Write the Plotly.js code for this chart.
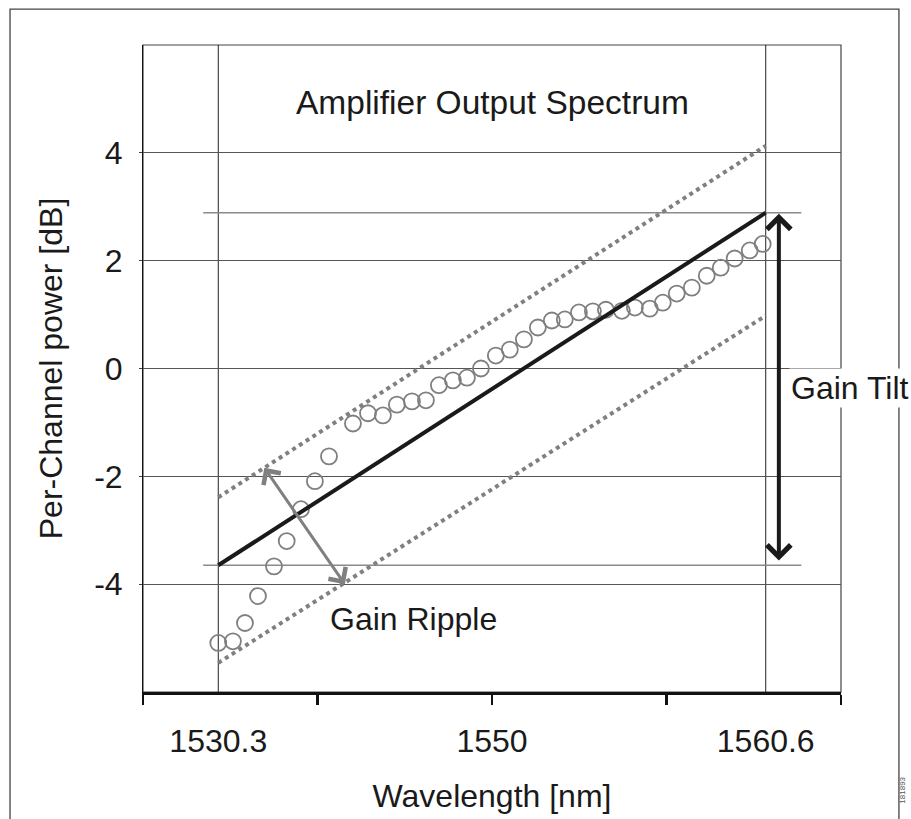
<!DOCTYPE html>
<html>
<head>
<meta charset="utf-8">
<script src="https://cdn.plot.ly/plotly-3.0.1.min.js"></script>
<style>html,body{margin:0;padding:0;background:#fff;}#chart{width:911px;height:819px;}</style>
</head>
<body>
<div id="chart"></div>
<script>
// Channel positions along the (schematic) wavelength axis: 0 = 1530.3 nm, 40 = 1560.6 nm
const channelPos = [0, 1.07, 1.95, 2.9, 4.07, 5.0, 6.04, 7.06, 8.09, 9.84, 10.94, 12.03, 13.05, 14.15, 15.17, 16.12, 17.14, 18.17, 19.19, 20.28, 21.3, 22.33, 23.35, 24.37, 25.32, 26.35, 27.37, 28.32, 29.49, 30.44, 31.53, 32.48, 33.5, 34.6, 35.69, 36.71, 37.73, 38.83, 39.78];
const channelPower = [-5.09, -5.06, -4.72, -4.22, -3.67, -3.20, -2.61, -2.09, -1.63, -1.02, -0.83, -0.87, -0.67, -0.61, -0.59, -0.31, -0.22, -0.17, 0.0, 0.24, 0.35, 0.54, 0.76, 0.89, 0.91, 1.04, 1.06, 1.09, 1.07, 1.13, 1.11, 1.22, 1.39, 1.50, 1.72, 1.87, 2.04, 2.19, 2.31];

const fitX = [0, 40];
const fitY = [-3.65, 2.89];
const upperBoundY = [-2.39, 4.13];
const lowerBoundY = [-5.46, 0.98];

const tiltLevelX = [-1.1, 42.6];
const tiltTop = 2.89;
const tiltBottom = -3.65;

const xLabelPos = [0, 20, 40];
const xLabelText = ['1530.3', '1550', '1560.6'];
const xTickMarks = [-5.5, 7.25, 20, 32.75, 45.5];
const xRange = [-5.5, 45.5];
const yTicks = [-4, -2, 0, 2, 4];
const yTickText = ['-4', '-2', '0', '2', '4'];
const yRange = [-6, 6];

// arrows: [tailX, tailY, headX, headY]
const rippleArrow = [3.29, -1.815, 9.25, -4.0];
const tiltArrowX = 40.96;
const tiltArrowY = [2.87, -3.59];

const FONT = 'Liberation Sans, Arial, Helvetica, sans-serif';
const fs = 32;

const traces = [
  {x: tiltLevelX, y: [tiltTop, tiltTop], mode: 'lines', line: {color: '#8a8a8a', width: 1.5}, hoverinfo: 'skip', showlegend: false},
  {x: tiltLevelX, y: [tiltBottom, tiltBottom], mode: 'lines', line: {color: '#8a8a8a', width: 1.5}, hoverinfo: 'skip', showlegend: false},
  {x: fitX, y: upperBoundY, mode: 'lines', line: {color: '#808080', width: 4, dash: 'dot'}, showlegend: false},
  {x: fitX, y: lowerBoundY, mode: 'lines', line: {color: '#808080', width: 4, dash: 'dot'}, showlegend: false},
  {x: channelPos, y: channelPower, mode: 'markers', marker: {symbol: 'circle-open', size: 16, color: '#7f7f7f', line: {width: 1.8}}, showlegend: false},
  {x: fitX, y: fitY, mode: 'lines', line: {color: '#1a1a1a', width: 4}, showlegend: false, xaxis: 'x2'}
];

const layout = {
  width: 911, height: 819,
  margin: {l: 143, r: 70, t: 45, b: 127},
  paper_bgcolor: '#fff', plot_bgcolor: '#fff',
  font: {family: FONT, color: '#1a1a1a', size: fs},
  showlegend: false,
  xaxis: {
    range: xRange, tickmode: 'array', tickvals: xLabelPos, ticktext: xLabelText,
    ticks: '', showgrid: false, zeroline: false, showline: false,
    tickfont: {size: fs, family: FONT, color: '#1a1a1a'}, ticklabelstandoff: 27,
    title: {text: 'Wavelength [nm]', font: {size: fs, family: FONT, color: '#1a1a1a'}, standoff: 26},
    fixedrange: true
  },
  xaxis2: {
    range: xRange, overlaying: 'x', anchor: 'y', side: 'bottom',
    tickmode: 'array', tickvals: xTickMarks, showticklabels: false,
    ticks: 'outside', ticklen: 10, tickwidth: 2.5, tickcolor: '#111',
    showline: true, linewidth: 3, linecolor: '#111',
    showgrid: false, zeroline: false, fixedrange: true
  },
  yaxis: {
    range: yRange, tickmode: 'array', tickvals: yTicks, ticktext: yTickText,
    ticks: 'outside', ticklen: 3, tickcolor: '#444', tickwidth: 1,
    showgrid: true, gridcolor: '#555', gridwidth: 1, zeroline: false,
    showline: true, linecolor: '#111', linewidth: 1,
    tickfont: {size: fs, family: FONT, color: '#1a1a1a'}, ticklabelstandoff: 10,
    title: {text: 'Per-Channel power [dB]', font: {size: fs, family: FONT, color: '#1a1a1a'}, standoff: 21},
    fixedrange: true
  },
  shapes: [
    {type: 'rect', xref: 'paper', yref: 'paper', x0: 0, x1: 1, y0: 0, y1: 1, line: {color: '#444', width: 1.2}, layer: 'below'},
    {type: 'line', xref: 'x', yref: 'paper', x0: xLabelPos[0], x1: xLabelPos[0], y0: 0, y1: 1, line: {color: '#222', width: 1}, layer: 'below'},
    {type: 'line', xref: 'x', yref: 'paper', x0: xLabelPos[2], x1: xLabelPos[2], y0: 0, y1: 1, line: {color: '#222', width: 1}, layer: 'below'},
    {type: 'rect', xref: 'paper', yref: 'paper', x0: -0.1905, x1: 1.083, y0: -0.25, y1: 1.0556, line: {color: '#444', width: 1.3}, layer: 'below'}
  ],
  annotations: [
    {text: 'Amplifier Output Spectrum', x: 20, y: 4.94, xref: 'x', yref: 'y', showarrow: false, font: {size: 33.5, family: FONT, color: '#1a1a1a'}},
    {text: 'Gain Ripple', x: 14.3, y: -4.65, xref: 'x', yref: 'y', showarrow: false, font: {size: fs, family: FONT, color: '#1a1a1a'}},
    {text: 'Gain Tilt', x: 41.7, y: -0.37, xref: 'x', yref: 'y', xanchor: 'left', showarrow: false, bgcolor: '#fff', font: {size: fs, family: FONT, color: '#1a1a1a'}},
    {text: '', x: rippleArrow[2], y: rippleArrow[3], ax: rippleArrow[0], ay: rippleArrow[1], xref: 'x', yref: 'y', axref: 'x', ayref: 'y',
     showarrow: true, arrowside: 'end+start', arrowhead: 4, startarrowhead: 4, arrowsize: 1.35, startarrowsize: 1.35, arrowwidth: 3, arrowcolor: '#808080', standoff: 0, startstandoff: 0},
    {text: '', x: tiltArrowX, y: tiltArrowY[0], ax: tiltArrowX, ay: tiltArrowY[1], xref: 'x', yref: 'y', axref: 'x', ayref: 'y',
     showarrow: true, arrowside: 'end+start', arrowhead: 4, startarrowhead: 4, arrowsize: 1.15, startarrowsize: 1.15, arrowwidth: 4, arrowcolor: '#1a1a1a', standoff: 0, startstandoff: 0},
    {text: '181893', xref: 'paper', yref: 'paper', x: 1.098, y: -0.175, textangle: -90, showarrow: false, font: {size: 8, family: FONT, color: '#555'}}
  ]
};

Plotly.newPlot('chart', traces, layout, {displayModeBar: false, staticPlot: true});
</script>
</body>
</html>
